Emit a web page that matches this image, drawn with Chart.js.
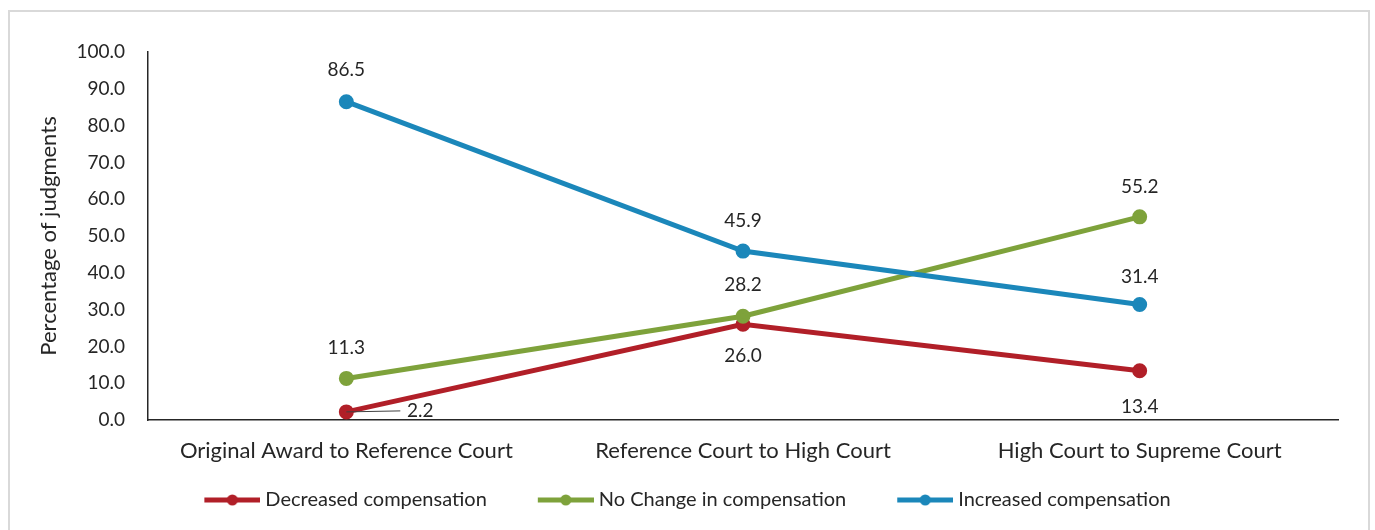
<!DOCTYPE html>
<html lang="en">
<head>
    <meta charset="UTF-8">
    <title>Compensation judgments</title>
    <style>
        body {
            margin: 0;
            background: #ffffff;
            font-family: Lato, Arial, sans-serif;
        }
        .frame {
            position: absolute;
            left: 8px;
            top: 10px;
            width: 1358px;
            height: 530px;
            border: 2px solid #d9d9d9;
            border-bottom: none;
        }
        .frame canvas {
            position: absolute;
            left: 0;
            top: 0;
        }
    </style>
</head>
<body>
    <div class="frame">
        <canvas id="chart" width="1358" height="520"></canvas>
    </div>
    <script src="https://cdn.jsdelivr.net/npm/chart.js"></script>
    <script>
        const categories = ['Original Award to Reference Court', 'Reference Court to High Court', 'High Court to Supreme Court'];
        const decreased = [2.2, 26.0, 13.4];
        const noChange = [11.3, 28.2, 55.2];
        const increased = [86.5, 45.9, 31.4];
        const seriesNames = ['Decreased compensation', 'No Change in compensation', 'Increased compensation'];
        const yTicks = [0, 10, 20, 30, 40, 50, 60, 70, 80, 90, 100];

        const textColor = '#262626';
        const colors = ['#b11f28', '#7ea23b', '#1b87ba'];
        const fontFamily = 'Lato, Arial, sans-serif';

        // legend marker: short line with a dot, with empty space on the left
        // so the legend items sit further apart
        function legendMarker(color) {
            const c = document.createElement('canvas');
            c.width = 88;
            c.height = 14;
            const g = c.getContext('2d');
            g.strokeStyle = color;
            g.lineWidth = 5;
            g.beginPath();
            g.moveTo(32, 7);
            g.lineTo(88, 7);
            g.stroke();
            g.fillStyle = color;
            g.beginPath();
            g.arc(60, 7, 5.5, 0, Math.PI * 2);
            g.fill();
            return c;
        }

        // value labels next to each point, offsets given per dataset
        const valueLabels = {
            id: 'valueLabels',
            afterDatasetsDraw(chart) {
                const ctx = chart.ctx;
                ctx.save();
                ctx.font = '19px ' + fontFamily;
                ctx.fillStyle = textColor;
                ctx.textAlign = 'center';
                ctx.textBaseline = 'middle';
                chart.data.datasets.forEach((ds, i) => {
                    const meta = chart.getDatasetMeta(i);
                    meta.data.forEach((pt, j) => {
                        const off = ds.labelOffsets[j];
                        const tx = pt.x + off[0];
                        const ty = pt.y + off[1];
                        if (off[2]) {
                            ctx.strokeStyle = '#404040';
                            ctx.lineWidth = 1;
                            ctx.beginPath();
                            ctx.moveTo(pt.x, pt.y);
                            ctx.lineTo(tx - 20, ty);
                            ctx.stroke();
                        }
                        ctx.fillText(ds.data[j].toFixed(1), tx, ty);
                    });
                });
                ctx.restore();
            }
        };

        const seriesData = [decreased, noChange, increased];
        const offsets = [
            [[74, -1, true], [0, 32], [0, 36]],
            [[0, -31], [0, -31], [0, -30]],
            [[0, -32], [0, -30], [0, -28]]
        ];

        new Chart(document.getElementById('chart').getContext('2d'), {
            type: 'line',
            data: {
                labels: categories,
                datasets: seriesData.map((d, i) => ({
                    label: seriesNames[i],
                    data: d,
                    borderColor: colors[i],
                    backgroundColor: colors[i],
                    pointBackgroundColor: colors[i],
                    pointBorderColor: colors[i],
                    borderWidth: 5,
                    pointRadius: 5,
                    pointHoverRadius: 5,
                    tension: 0,
                    order: 2 - i,
                    labelOffsets: offsets[i],
                    legendImg: legendMarker(colors[i])
                }))
            },
            options: {
                responsive: false,
                animation: false,
                layout: {
                    padding: { top: 40, right: 30, bottom: 12, left: 0 }
                },
                scales: {
                    x: {
                        offset: true,
                        grid: { display: false, drawTicks: false },
                        border: { display: true, color: '#262626', width: 1.5 },
                        ticks: {
                            color: textColor,
                            font: { family: fontFamily, size: 22 },
                            padding: 18,
                            maxRotation: 0
                        },
                        afterFit(scale) { scale.height = 46; }
                    },
                    y: {
                        min: 0,
                        max: 100,
                        afterBuildTicks(scale) {
                            scale.ticks = yTicks.map(v => ({ value: v }));
                        },
                        grid: { display: false, drawTicks: false },
                        border: { display: true, color: '#262626', width: 1.5 },
                        ticks: {
                            color: textColor,
                            font: { family: fontFamily, size: 19 },
                            padding: 23,
                            callback: v => v.toFixed(1)
                        },
                        title: {
                            display: true,
                            text: 'Percentage of judgments',
                            color: textColor,
                            font: { family: fontFamily, size: 22 },
                            padding: { top: 26, bottom: 0 }
                        },
                        afterFit(scale) { scale.width = 138; }
                    }
                },
                plugins: {
                    tooltip: { enabled: false },
                    legend: {
                        position: 'bottom',
                        labels: {
                            color: textColor,
                            font: { family: fontFamily, size: 20 },
                            usePointStyle: true,
                            pointStyleWidth: 78,
                            padding: 24,
                            sort: (a, b) => a.datasetIndex - b.datasetIndex,
                            generateLabels(chart) {
                                return chart.data.datasets.map((ds, i) => ({
                                    text: ds.label,
                                    fontColor: textColor,
                                    pointStyle: ds.legendImg,
                                    datasetIndex: i,
                                    hidden: false,
                                    lineWidth: 0
                                }));
                            }
                        }
                    }
                }
            },
            plugins: [valueLabels]
        });
    </script>
</body>
</html>
